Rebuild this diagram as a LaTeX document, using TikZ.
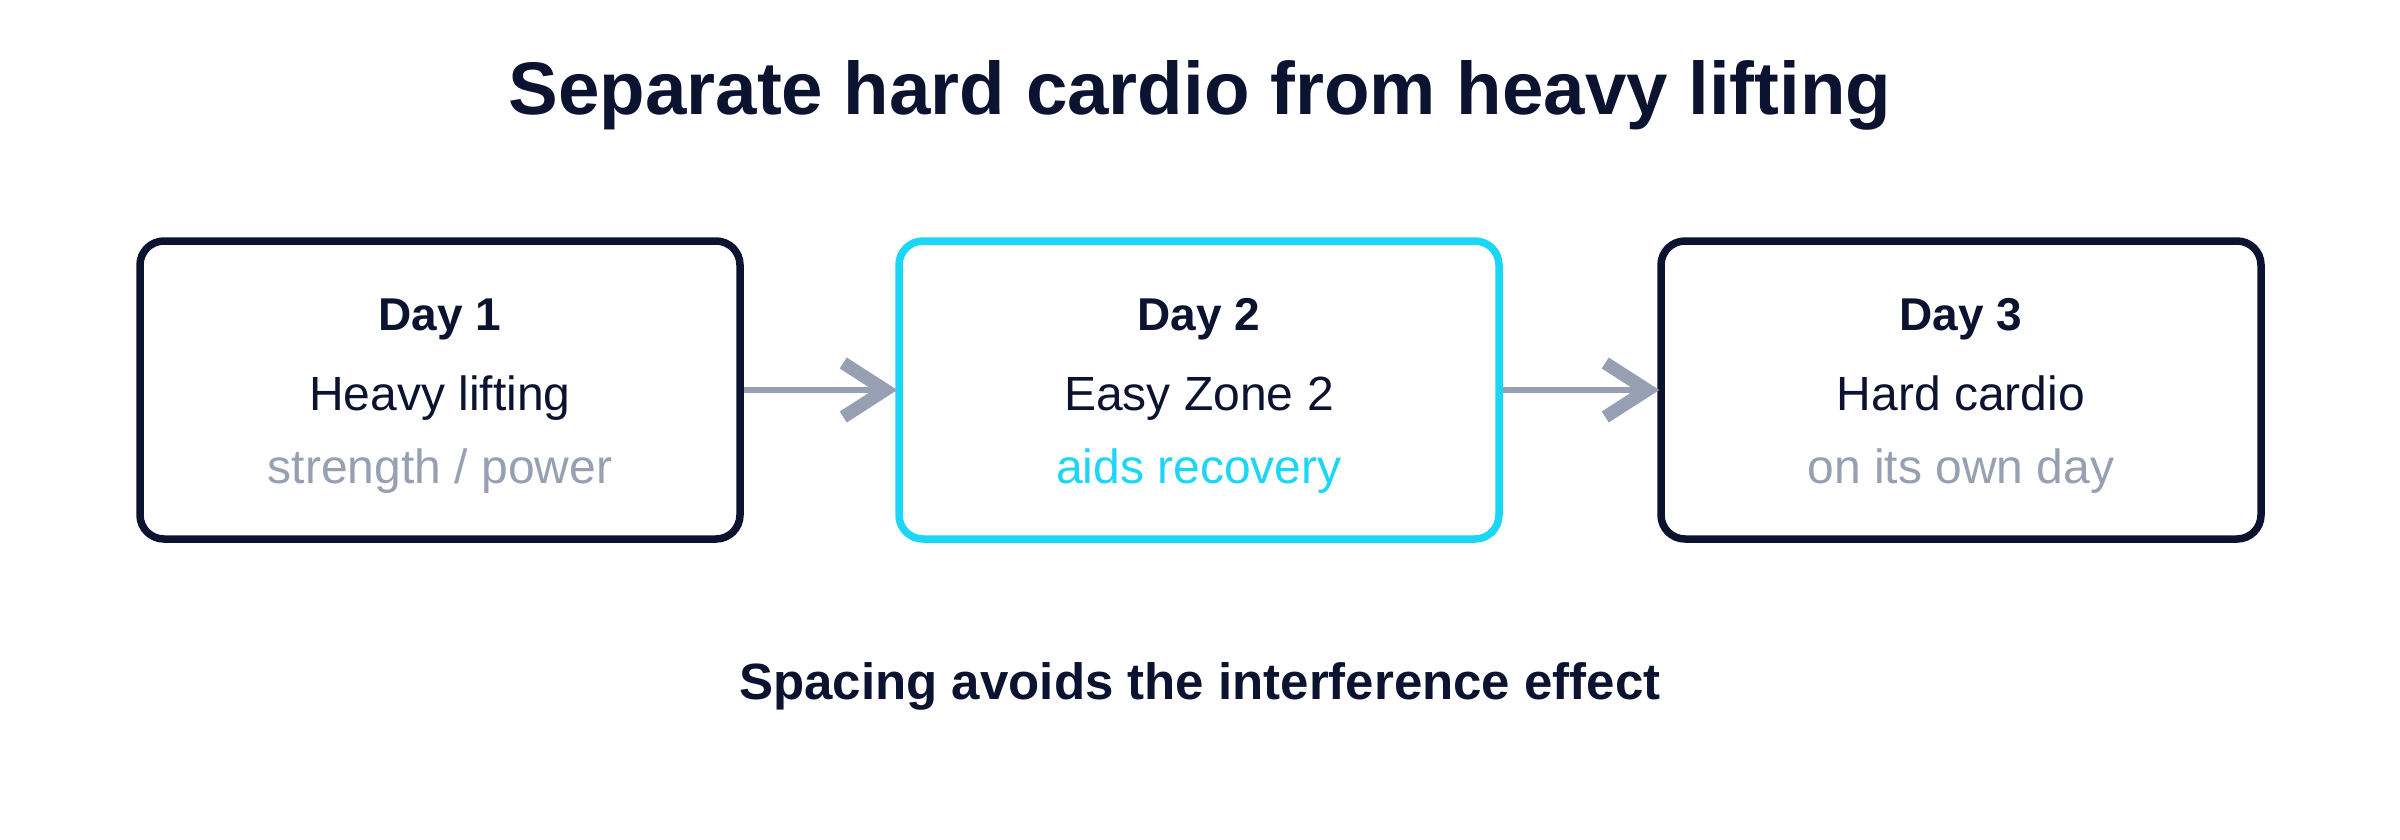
\documentclass[tikz,border=0pt]{standalone}
\usepackage{fontspec}
\setmainfont{Liberation Sans}
\usetikzlibrary{arrows.meta}
\definecolor{navy}{HTML}{0B1331}
\definecolor{cyanx}{HTML}{1BD6F7}
\definecolor{slate}{HTML}{97A0B3}
\tikzset{
  daybox/.style={draw=navy, line width=7.5pt, rounded corners=24pt, minimum width=600pt, minimum height=298pt, inner sep=0pt, fill=white},
  hibox/.style={daybox, draw=cyanx},
  daylbl/.style={anchor=base, inner sep=0pt, text=navy, font=\fontsize{46}{50}\selectfont\bfseries},
  mainlbl/.style={anchor=base, inner sep=0pt, text=navy, font=\fontsize{48}{52}\selectfont},
  sublbl/.style={anchor=base, inner sep=0pt, text=slate, font=\fontsize{48}{52}\selectfont},
  conn/.style={draw=slate, line width=6pt, -{Straight Barb[length=42pt, width=54pt, line width=13pt]}, shorten >=-2pt}
}
\begin{document}
\begin{tikzpicture}[x=1pt, y=-1pt]
\useasboundingbox[fill=white] (0,0) rectangle (2400,840);
\node[anchor=base, inner sep=0pt, text=navy, font=\fontsize{74.5}{80}\selectfont\bfseries] (title) at (1200,115) {Separate hard cardio from heavy lifting};
\node[daybox] (b1) at (440,390) {};
\node[hibox] (b2) at (1199,390) {};
\node[daybox] (b3) at (1961,390) {};
\node[daylbl] (d1) at (440,330) {Day 1};
\node[mainlbl] (m1) at (440,410) {Heavy lifting};
\node[sublbl] (s1) at (440,483) {strength / power};
\node[daylbl] (d2) at (1199,330) {Day 2};
\node[mainlbl] (m2) at (1199,410) {Easy Zone 2};
\node[sublbl, text=cyanx] (s2) at (1199,483) {aids recovery};
\node[daylbl] (d3) at (1961,330) {Day 3};
\node[mainlbl] (m3) at (1961,410) {Hard cardio};
\node[sublbl] (s3) at (1961,483) {on its own day};
\draw[conn] (b1.east) -- (b2.west);
\draw[conn] (b2.east) -- (b3.west);
\node[anchor=base, inner sep=0pt, text=navy, font=\fontsize{51}{56}\selectfont\bfseries] (note) at (1200,699) {Spacing avoids the interference effect};
\end{tikzpicture}
\end{document}
